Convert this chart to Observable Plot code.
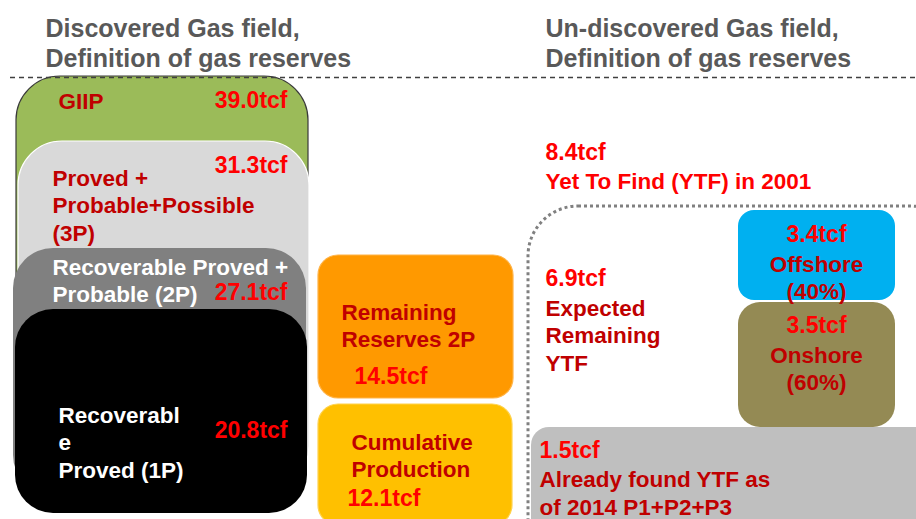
<!DOCTYPE html>
<html>
<head>
<meta charset="utf-8">
<script src="https://cdn.jsdelivr.net/npm/d3@7"></script>
<script src="https://cdn.jsdelivr.net/npm/@observablehq/plot@0.6"></script>
<style>
  html, body { margin: 0; padding: 0; background: #fff; overflow: hidden; }
  #chart svg { display: block; }
</style>
</head>
<body>
<div id="chart"></div>
<script>
// ---- data values (tcf) ----
const reserveKeys = ["giip", "p3", "p2", "p1", "remaining", "cumulative", "ytf2001", "expected", "offshore", "onshore", "found"];
const reserveTcf  = [39.0, 31.3, 27.1, 20.8, 14.5, 12.1, 8.4, 6.9, 3.4, 3.5, 1.5];

// ---- text labels ----
const titles = ["Discovered Gas field,\nDefinition of gas reserves", "Un-discovered Gas field,\nDefinition of gas reserves"];
const boxLabels = [
  "GIIP",
  "Proved +\nProbable+Possible\n(3P)",
  "Recoverable Proved +\nProbable (2P)",
  "Recoverabl\ne\nProved (1P)",
  "Remaining\nReserves 2P",
  "Cumulative\nProduction",
  "Yet To Find (YTF) in 2001",
  "Expected\nRemaining\nYTF",
  "Offshore\n(40%)",
  "Onshore\n(60%)",
  "Already found YTF as\nof 2014 P1+P2+P3"
];

// ---- diagram layout (scale units) ----
const boxX1 = [16, 18, 13, 15, 318, 318, null, null, 738, 738, 531];
const boxX2 = [308, 309, 306, 307, 513, 512, null, null, 895, 895, 940];
const boxY1 = [76, 141, 248, 309, 255, 404, null, null, 210, 302, 427];
const boxY2 = [480, 490, 495, 513, 398, 525, null, null, 300, 427, 540];
const boxFill = ["#9BBB59", "#D9D9D9", "#808080", "#000000", "#FF9900", "#FFC000", null, null, "#00B0F0", "#948A54", "#BFBFBF"];
const boxStroke = ["#3a3a3a", "#ffffff", "none", "none", "#ffb347", "#ffd24d", null, null, "none", "none", "none"];
const boxRadius = [44, 44, 40, 38, 20, 20, null, null, 16, 22, 18];

// label placement
const labelX = [58, 52, 52, 58, 341, 351, 545, 545, 816, 816, 539];
const labelY = [100, 204, 279, 441, 324, 454, 180, 334, 276, 367, 491.5];
const labelColor = ["#C00000", "#C00000", "#FFFFFF", "#FFFFFF", "#C00000", "#C00000", "#FF0000", "#C00000", "#C00000", "#C00000", "#C00000"];
const labelAnchor = ["start", "start", "start", "start", "start", "start", "start", "start", "middle", "middle", "start"];

const valueX = [287, 287, 287, 287, 354, 347, 545, 545, 816, 816, 539];
const valueY = [100, 165, 292, 430, 376, 498, 152, 278, 234, 325, 450];
const valueAnchor = ["end", "end", "end", "end", "start", "start", "start", "start", "middle", "middle", "start"];

// ---- build tables ----
const boxes = reserveKeys.map((k, i) => ({
  key: k, x1: boxX1[i], x2: boxX2[i], y1: boxY1[i], y2: boxY2[i],
  fill: boxFill[i], stroke: boxStroke[i], r: boxRadius[i]
})).filter(d => d.fill);

const labels = reserveKeys.map((k, i) => ({
  text: boxLabels[i], x: labelX[i], y: labelY[i], color: labelColor[i], anchor: labelAnchor[i]
}));
const valuesT = reserveKeys.map((k, i) => ({
  text: reserveTcf[i].toFixed(1) + "tcf", x: valueX[i], y: valueY[i], anchor: valueAnchor[i]
}));

const font = "'Liberation Sans', Arial, Helvetica, sans-serif";

const marks = [];
// dotted container for undiscovered YTF
marks.push(Plot.rect([{x1: 528, x2: 960, y1: 206, y2: 580}], {
  x1: "x1", x2: "x2", y1: "y1", y2: "y2",
  fill: "none", stroke: "#808080", strokeWidth: 3, strokeDasharray: "3,3", rx: 50
}));
// boxes, drawn in order
boxes.forEach(b => {
  marks.push(Plot.rect([b], {
    x1: "x1", x2: "x2", y1: "y1", y2: "y2",
    fill: "fill", stroke: b.stroke === "none" ? null : b.stroke, strokeWidth: 1.2, rx: b.r
  }));
});
// dashed divider
marks.push(Plot.ruleY([77], {x1: 10, x2: 916, stroke: "#404040", strokeWidth: 1.5, strokeDasharray: "5,4"}));
// titles
marks.push(Plot.text(titles.map((t, i) => ({t, x: i === 0 ? 45 : 545})), {
  x: "x", y: () => 42, text: "t", textAnchor: "start", lineAnchor: "middle",
  fontSize: 25, fontWeight: "bold", fill: "#595959", lineHeight: 1.2, fontFamily: font
}));
// labels
["start", "middle"].forEach(a => {
  marks.push(Plot.text(labels.filter(d => d.anchor === a), {
    x: "x", y: "y", text: "text", fill: d => d.color, textAnchor: a, lineAnchor: "middle",
    fontSize: 22.5, fontWeight: "bold", lineHeight: 1.23, fontFamily: font
  }));
});
["start", "middle", "end"].forEach(a => {
  marks.push(Plot.text(valuesT.filter(d => d.anchor === a), {
    x: "x", y: "y", text: "text", fill: "#FF0000", textAnchor: a, lineAnchor: "middle",
    fontSize: 23, fontWeight: "bold", fontFamily: font
  }));
});

const chart = Plot.plot({
  width: 916,
  height: 519,
  margin: 0,
  x: {domain: [0, 916], range: [0, 916], axis: null},
  y: {domain: [0, 519], range: [0, 519], axis: null},
  style: {background: "#ffffff", overflow: "hidden", fontFamily: font},
  marks
});
document.getElementById("chart").appendChild(chart);
</script>
</body>
</html>
